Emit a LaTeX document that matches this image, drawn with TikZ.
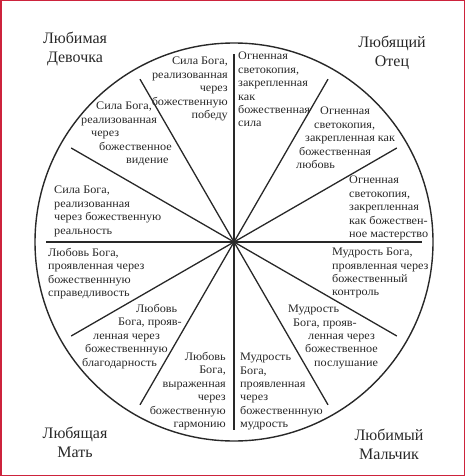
\documentclass[tikz,border=0pt]{standalone}
\usepackage{fontspec}
\setmainfont{Liberation Serif}
\newfontfamily\sectorfont{Liberation Serif}[FakeStretch=1.06]
\usetikzlibrary{calc}
\definecolor{framecolor}{RGB}{205,35,60}
\definecolor{inkcolor}{RGB}{40,40,40}
\tikzset{
    sector/.style={inner sep=0pt, align=left, text=inkcolor,
        font=\sectorfont\fontsize{11.5}{13.4}\selectfont},
    rsector/.style={sector, align=right},
    corner/.style={inner sep=0pt, align=center, text=inkcolor,
        font=\fontsize{16}{19}\selectfont},
    spoke/.style={draw=inkcolor, line width=1.3pt}
}
\newcommand{\ind}[1]{\hspace*{#1pt}}

\begin{document}
\begin{tikzpicture}[x=1pt, y=-1pt]
    \useasboundingbox (0,0) rectangle (465,476);
    \draw[framecolor, line width=1.5pt] (0.75,0.75) rectangle (464.25,475.25);

    \coordinate (c) at (234,242);
    \draw[inkcolor, line width=1.4pt] (c) circle [radius=199];
    \foreach \a in {0,30,...,330} {
        \coordinate (r\a) at ($(c)+(\a:188)$);
        \draw[spoke] (c) -- (r\a);
    }

    % upper left half
    \node[rsector, anchor=north east] (pobeda) at (228,57) {Сила Бога,\\реализованная\\через\\божественную\\победу};
    \node[sector, anchor=north west] (videnie) at (81,102) {\ind{15}Сила Бога,\\реализованная\\\ind{10}через\\\ind{18}божественное\\\ind{45}видение};
    \node[sector, anchor=north west] (realnost) at (54,186) {Сила Бога,\\реализованная\\через божественную\\реальность};

    % lower left half
    \node[sector, anchor=north west] (spravedl) at (48,248) {Любовь Бога,\\проявленная через\\божественнную\\справедливость};
    \node[sector, anchor=north west] (blagodar) at (82,304) {\ind{54}Любовь\\\ind{36}Бога, прояв-\\\ind{11}ленная через\\\ind{3}божественнную\\благодарность};
    \node[rsector, anchor=north east] (garmonia) at (226,352) {Любовь\\Бога,\\выраженная\\через\\божественную\\гармонию};

    % lower right half
    \node[sector, anchor=north west] (mudrost) at (240,353) {Мудрость\\Бога,\\проявленная\\через\\божественнную\\мудрость};
    \node[sector, anchor=north west] (poslush) at (288,305) {Мудрость\\\ind{5}Бога, прояв-\\\ind{20}ленная через\\\ind{17}божественное\\\ind{26}послушание};
    \node[sector, anchor=north west] (kontrol) at (332,248) {Мудрость Бога,\\проявленная через\\божественный\\контроль};

    % upper right half
    \node[sector, anchor=north west] (master) at (349,176) {Огненная\\светокопия,\\закрепленная\\как божествен-\\ное мастерство};
    \node[sector, anchor=north west] (lubov) at (296,107) {\ind{24}Огненная\\\ind{18}светокопия,\\\ind{9}закрепленная как\\\ind{3}божественная\\любовь};
    \node[sector, anchor=north west] (sila) at (238,52) {Огненная\\светокопия,\\закрепленная\\как\\божественная\\сила};

    % corners
    \node[corner, anchor=north] (devochka) at (75,32) {Любимая\\Девочка};
    \node[corner, anchor=north] (otec) at (392,36) {Любящий\\Отец};
    \node[corner, anchor=north] (mat) at (75,427) {Любящая\\Мать};
    \node[corner, anchor=north] (malchik) at (389,429) {Любимый\\Мальчик};
\end{tikzpicture}
\end{document}
